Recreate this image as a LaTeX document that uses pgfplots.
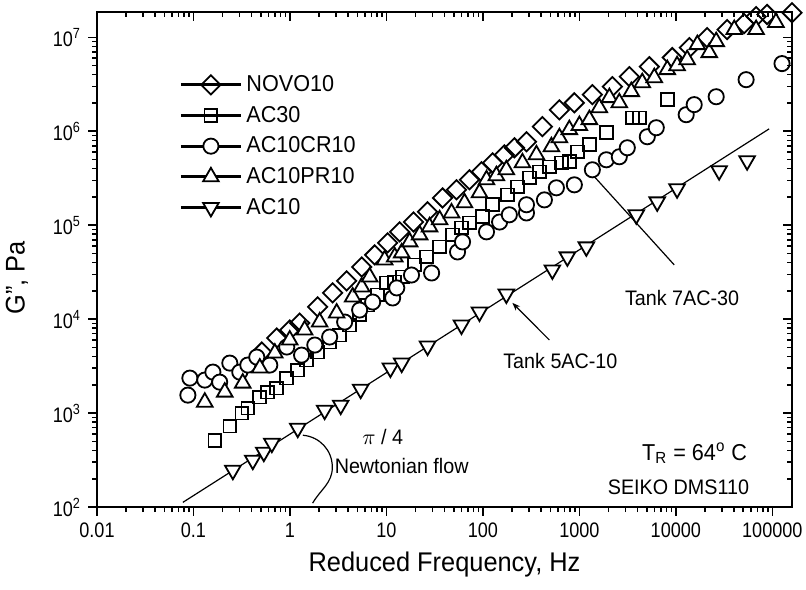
\documentclass[border=0pt]{standalone}
\usepackage{fontspec}
\setmainfont{Liberation Sans}[FakeStretch=0.94]
\newfontfamily\ticksfont{Liberation Sans}[FakeStretch=0.86]
\usepackage{pgfplots}
\pgfplotsset{compat=1.18}
\usetikzlibrary{arrows.meta}

\begin{document}
\begin{tikzpicture}
\begin{axis}[
  scale only axis, width=347.5pt, height=247.5pt,
  xmode=log, ymode=log,
  xmin=0.01, xmax=1.6e5, ymin=100, ymax=1.86e7,
  axis line style={line width=1pt},
  major tick length=4.5pt, minor tick length=2.5pt,
  tick style={black, line width=0.8pt},
  xtick={0.01,0.1,1,10,100,1000,10000,100000},
  ytick={1e2,1e3,1e4,1e5,1e6,1e7},
  minor xtick={0.02,0.03,0.04,0.05,0.06,0.07,0.08,0.09,0.2,0.3,0.4,0.5,0.6,0.7,0.8,0.9,2,3,4,5,6,7,8,9,20,30,40,50,60,70,80,90,200,300,400,500,600,700,800,900,2000,3000,4000,5000,6000,7000,8000,9000,20000,30000,40000,50000,60000,70000,80000,90000},
  minor ytick={200,300,400,500,600,700,800,900,2000,3000,4000,5000,6000,7000,8000,9000,2e4,3e4,4e4,5e4,6e4,7e4,8e4,9e4,2e5,3e5,4e5,5e5,6e5,7e5,8e5,9e5,2e6,3e6,4e6,5e6,6e6,7e6,8e6,9e6},
  tick align=outside, xtick pos=left, ytick pos=left,
  xticklabels={0.01,0.1,1,10,100,1000,10000,100000},
  yticklabels={10\textsuperscript{2},10\textsuperscript{3},10\textsuperscript{4},10\textsuperscript{5},10\textsuperscript{6},10\textsuperscript{7}},
  ticklabel style={font=\ticksfont\fontsize{10.5}{12}\selectfont},
  xlabel={Reduced Frequency, Hz}, ylabel={G", Pa},
  label style={font=\fontsize{13.5}{15}\selectfont},
  ylabel style={at={(axis description cs:-0.089,0.463)}, anchor=south},
  clip=false,
  legend style={draw=none, fill=none, at={(0.118,0.881)}, anchor=north west,
    font=\fontsize{11.5}{13}\selectfont, row sep=1.8pt, inner sep=0pt},
  legend cell align=left,
  legend image code/.code={\draw[line width=1.5pt] (0pt,0pt) -- (30pt,0pt);
    \draw[#1] plot coordinates {(15pt,0pt)};},
]
\coordinate (bl) at (rel axis cs:0,0);
\coordinate (tr) at (rel axis cs:1,1);
% fitted line through AC10
\addplot[black, line width=0.6pt, forget plot] coordinates {(0.0776,112)(92700,1.06e6)};

\addplot[only marks, black, mark=square, mark size=3.4pt, mark options={solid, fill=white, line width=0.9pt, rotate=45}] coordinates {
(0.511,4460)(0.729,6290)(0.995,7650)(1.26,9090)(1.94,13500)(2.77,19000)(3.87,25500)
(5.54,35900)(7.55,48200)(10.3,64800)(13.7,84900)(19.1,108000)(26.7,139000)
(38.2,195000)(53.3,238000)(72.6,304000)(96.8,370000)(126,461000)(167,561000)
(212,667000)(283,773000)(414,1.12e6)(621,1.69e6)(887,2.01e6)(1364,2.45e6)
(2198,2.98e6)(3296,3.81e6)(5309,4.87e6)(9180,6.08e6)(13800,7.77e6)(21100,9.93e6)
(34000,1.21e7)(51000,1.40e7)(67900,1.66e7)(88300,1.75e7)(160000,1.83e7)
};
\addlegendentry{NOVO10}
\addplot[only marks, black, mark=square, mark size=3.2pt, mark options={solid, fill=white, line width=0.9pt}] coordinates {
(0.167,514)(0.238,725)(0.317,998)(0.366,1128)(0.487,1478)(0.589,1671)(0.729,1842)
(0.927,2356)(1.20,2866)(1.49,3664)(1.94,4460)(2.58,5700)(3.28,6770)(4.16,8650)
(5.28,11100)(6.39,14100)(8.11,18100)(10.0,24300)(12.2,24900)(14.7,28100)(19.6,37800)
(26.1,45900)(35.6,58700)(48.4,78900)(60.0,93500)(72.6,106000)(99,123000)(126,165000)
(180,210000)(228,256000)(304,319000)(385,370000)(489,418000)(651,461000)(787,473000)
(953,604000)(1270,718000)(1904,964000)(3537,1.39e6)(4180,1.39e6)(8150,2.17e6)
};
\addlegendentry{AC30}
\addplot[only marks, black, mark=*, mark size=3.8pt, mark options={solid, fill=white, line width=0.9pt}] coordinates {
(0.0875,1552)(0.0918,2356)(0.131,2244)(0.159,2730)(0.187,2135)(0.238,3404)(0.302,2730)
(0.366,3243)(0.453,3945)(0.618,3243)(0.927,5046)(1.32,4140)(1.81,5300)(2.58,6450)
(3.69,9310)(5.28,12500)(7.20,15200)(11.6,16800)(12.8,21500)(18.2,29500)(29.4,31000)
(54.6,51900)(61.5,66400)(109,84900)(149,108000)(188,129000)(283,135000)(283,165000)
(434,186000)(578,250000)(887,269000)(1364,389000)(1904,497000)(2594,535000)
(3140,667000)(5058,874000)(6270,1.09e6)(12800,1.50e6)(15500,1.92e6)(26200,2.33e6)
(53500,3.54e6)(126000,5.25e6)
};
\addlegendentry{AC10CR10}
\addplot[only marks, black, mark=triangle*, mark size=4.5pt, mark options={solid, fill=white, line width=0.9pt}] coordinates {
(0.131,1306)(0.211,1671)(0.324,2083)(0.487,3013)(0.697,4350)(0.995,5990)(1.42,7650)
(2.03,9310)(3.05,11600)(4.47,17200)(5.54,22000)(6.70,28100)(9.58,42700)(12.2,45900)
(14.4,50700)(17.4,66400)(22.1,78900)(28.0,95900)(35.6,114000)(47.3,135000)
(64.5,173000)(92.2,221000)(109,304000)(138,336000)(175,389000)(257,461000)
(359,561000)(513,684000)(621,853000)(787,1.04e6)(1000,1.15e6)(1270,1.33e6)
(1611,1.78e6)(2046,2.28e6)(2594,2.01e6)(3451,2.64e6)(4487,3.29e6)(5977,3.72e6)
(8150,4.53e6)(10300,4.99e6)(13100,5.78e6)(16700,8.36e6)(22200,6.87e6)(26200,9.0e6)
(40300,1.21e7)(67900,1.21e7)(109000,1.44e7)
};
\addlegendentry{AC10PR10}
\addplot[only marks, black, mark=triangle*, mark size=4.5pt, mark options={solid, fill=white, line width=0.9pt, rotate=180}] coordinates {
(0.256,246)(0.412,315)(0.536,383)(0.649,478)(1.205,690)(2.29,1074)(3.36,1214)
(5.41,1796)(11.0,3013)(14.4,3404)(26.7,5164)(60.0,8650)(92.2,11900)(175,18500)
(525,33400)(751,46000)(1181,58800)(3890,129000)(6410,177000)(10300,244000)
(28100,380000)(54800,485000)
};
\addlegendentry{AC10}

% annotations
\draw[line width=0.6pt] (axis cs:1181,408000) -- (axis cs:9620,37800);
\node[font=\fontsize{10.5}{12}\selectfont] at (axis cs:11600,16800) {Tank 7AC-30};
\draw[line width=0.6pt, {Stealth[length=4pt,width=3pt]}-] (axis cs:202,14900) -- (axis cs:489,5990);
\node[font=\fontsize{10.5}{12}\selectfont] at (axis cs:636,3570) {Tank 5AC-10};
\node[font=\fontsize{10.5}{12}\selectfont] at (axis cs:9.14,553) {$\pi$ / 4};
\node[font=\fontsize{10.5}{12}\selectfont] at (axis cs:14.4,272) {Newtonian flow};
\draw[line width=0.6pt] (axis cs:1.36,581) to[out=-5,in=90] (axis cs:2.75,265) to[out=-90,in=60] (axis cs:1.72,110);
\node[font=\fontsize{11.5}{13}\selectfont, anchor=east] at (axis cs:64800,374) {T\textsubscript{R} = 64\textsuperscript{o} C};
\node[font=\fontsize{10.5}{12}\selectfont, anchor=east] at (axis cs:67900,162) {SEIKO DMS110};
\end{axis}
\begin{axis}[
  scale only axis, width=347.5pt, height=247.5pt,
  xmode=log, ymode=log,
  xmin=0.01, xmax=1.6e5, ymin=100, ymax=1.86e7,
  axis line style={line width=1pt},
  major tick length=4.5pt, minor tick length=2.5pt,
  tick style={black, line width=0.8pt},
  xtick={0.01,0.1,1,10,100,1000,10000,100000},
  ytick={1e2,1e3,1e4,1e5,1e6,1e7},
  minor xtick={0.02,0.03,0.04,0.05,0.06,0.07,0.08,0.09,0.2,0.3,0.4,0.5,0.6,0.7,0.8,0.9,2,3,4,5,6,7,8,9,20,30,40,50,60,70,80,90,200,300,400,500,600,700,800,900,2000,3000,4000,5000,6000,7000,8000,9000,20000,30000,40000,50000,60000,70000,80000,90000},
  minor ytick={200,300,400,500,600,700,800,900,2000,3000,4000,5000,6000,7000,8000,9000,2e4,3e4,4e4,5e4,6e4,7e4,8e4,9e4,2e5,3e5,4e5,5e5,6e5,7e5,8e5,9e5,2e6,3e6,4e6,5e6,6e6,7e6,8e6,9e6},
  tick align=inside, xtick pos=right, ytick pos=right,
  xticklabels={}, yticklabels={}]
\end{axis}
\pgfresetboundingbox
\path[use as bounding box] ([xshift=-48.5pt, yshift=-41pt]bl) rectangle ([xshift=7pt, yshift=6pt]tr);
\end{tikzpicture}
\end{document}
